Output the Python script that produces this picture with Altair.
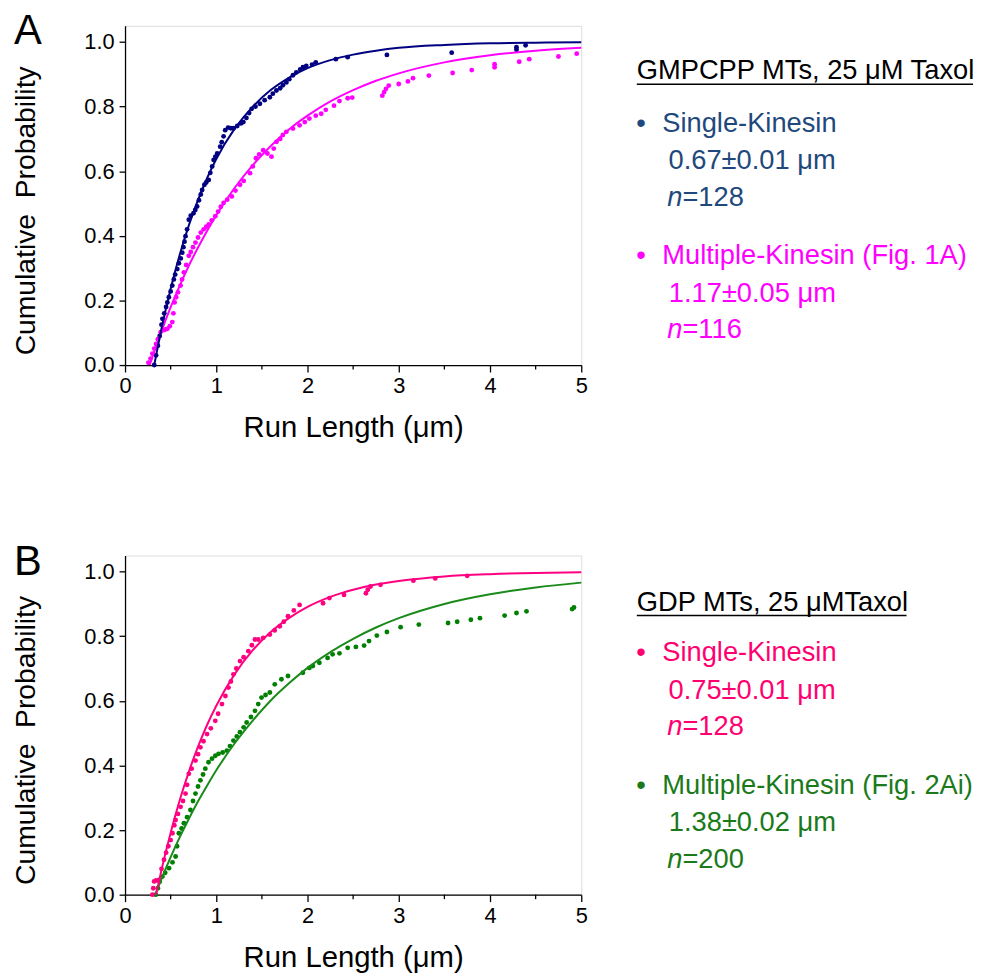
import altair as alt
import pandas as pd

FONT = "Liberation Sans"

# ---------------- Panel A data (GMPCPP MTs) ----------------
a_single_x = [0.32, 0.34, 0.36, 0.38, 0.40, 0.41, 0.43, 0.45, 0.464, 0.48, 0.50, 0.518, 0.535, 0.55, 0.573,
              0.59, 0.61, 0.627, 0.64, 0.652, 0.663, 0.68, 0.699, 0.72, 0.75, 0.77, 0.79, 0.81, 0.83, 0.845,
              0.87, 0.89, 0.917, 0.935, 0.955, 0.971, 0.99, 1.01, 1.043, 1.06, 1.08, 1.098, 1.13, 1.16, 1.19,
              1.23, 1.27, 1.297, 1.33, 1.36, 1.388, 1.43, 1.478, 1.53, 1.587, 1.62, 1.659, 1.70, 1.73, 1.768,
              1.80, 1.84, 1.877, 1.92, 1.95, 1.986, 2.05, 2.09, 2.31, 2.44, 2.87, 3.58, 4.29, 4.29, 4.39]
a_single_y = [0.0, 0.03, 0.06, 0.09, 0.125, 0.143, 0.16, 0.18, 0.194, 0.21, 0.228, 0.246, 0.265, 0.28, 0.297,
              0.315, 0.33, 0.348, 0.365, 0.382, 0.399, 0.42, 0.45, 0.462, 0.47, 0.48, 0.491, 0.51, 0.528, 0.542,
              0.558, 0.565, 0.573, 0.595, 0.615, 0.635, 0.645, 0.655, 0.676, 0.69, 0.708, 0.727, 0.735, 0.733, 0.733,
              0.74, 0.748, 0.752, 0.765, 0.78, 0.793, 0.80, 0.809, 0.82, 0.829, 0.84, 0.85, 0.857, 0.866, 0.875,
              0.885, 0.897, 0.906, 0.915, 0.922, 0.926, 0.93, 0.937, 0.947, 0.953, 0.960, 0.967, 0.976, 0.984, 0.99]

a_multi_x = [0.257, 0.28, 0.30, 0.32, 0.34, 0.36, 0.39, 0.42, 0.44, 0.464, 0.49, 0.518, 0.53, 0.543, 0.56,
             0.58, 0.609, 0.625, 0.645, 0.67, 0.699, 0.72, 0.745, 0.772, 0.80, 0.83, 0.862, 0.89, 0.917, 0.95,
             0.989, 1.02, 1.05, 1.08, 1.12, 1.17, 1.21, 1.26, 1.30, 1.37, 1.40, 1.435, 1.47, 1.514, 1.56,
             1.605, 1.63, 1.66, 1.70, 1.73, 1.768, 1.84, 1.913, 1.97, 2.02, 2.09, 2.15, 2.20, 2.29, 2.35,
             2.44, 2.49, 2.82, 2.84, 2.86, 2.89, 3.0, 3.10, 3.156, 3.33, 3.59, 3.80, 4.05, 4.05, 4.32,
             4.43, 4.75, 4.95]
a_multi_y = [0.007, 0.02, 0.035, 0.051, 0.065, 0.08, 0.102, 0.108, 0.11, 0.112, 0.12, 0.133, 0.16, 0.194, 0.21,
             0.225, 0.246, 0.265, 0.287, 0.31, 0.338, 0.35, 0.365, 0.379, 0.395, 0.41, 0.42, 0.428, 0.435, 0.448,
             0.461, 0.475, 0.49, 0.502, 0.512, 0.522, 0.54, 0.558, 0.57, 0.594, 0.615, 0.64, 0.652, 0.665, 0.655,
             0.645, 0.67, 0.691, 0.70, 0.712, 0.722, 0.732, 0.742, 0.752, 0.763, 0.772, 0.778, 0.79, 0.803, 0.817,
             0.826, 0.828, 0.834, 0.845, 0.855, 0.865, 0.870, 0.878, 0.888, 0.896, 0.904, 0.913, 0.922, 0.931, 0.939,
             0.947, 0.955, 0.964]

a_single_fit_x = [0.32, 0.4, 0.5, 0.6, 0.7, 0.8, 0.9, 1.0, 1.2, 1.4, 1.6, 1.8, 2.0, 2.25, 2.5, 2.75, 3.0, 3.5, 4.0, 4.5, 5.0]
a_single_fit_y = [0.0, 0.113, 0.236, 0.342, 0.433, 0.511, 0.579, 0.638, 0.731, 0.800, 0.852, 0.890, 0.919, 0.944,
                  0.961, 0.973, 0.982, 0.991, 0.996, 0.998, 0.999]
a_multi_fit_x = [0.27, 0.4, 0.5, 0.6, 0.7, 0.8, 0.9, 1.0, 1.2, 1.4, 1.6, 1.8, 2.0, 2.25, 2.5, 2.75, 3.0, 3.5, 4.0, 4.5, 5.0]
a_multi_fit_y = [0.0, 0.105, 0.179, 0.246, 0.308, 0.364, 0.416, 0.464, 0.548, 0.619, 0.679, 0.730, 0.772, 0.816,
                 0.851, 0.880, 0.903, 0.937, 0.959, 0.973, 0.982]

# ---------------- Panel B data (GDP MTs) ----------------
b_single_x = [0.30, 0.31, 0.319, 0.34, 0.373, 0.40, 0.427, 0.45, 0.475, 0.50, 0.52, 0.54, 0.554, 0.58, 0.609,
              0.635, 0.663, 0.68, 0.699, 0.73, 0.772, 0.80, 0.826, 0.86, 0.899, 0.94, 0.989, 1.02, 1.062, 1.10,
              1.134, 1.16, 1.188, 1.22, 1.26, 1.30, 1.351, 1.39, 1.424, 1.46, 1.514, 1.587, 1.64, 1.696, 1.74,
              1.786, 1.85, 1.913, 2.17, 2.24, 2.40, 2.64, 2.66, 2.69, 2.80, 3.16, 3.40, 3.75]
b_single_y = [0.0, 0.02, 0.041, 0.044, 0.046, 0.08, 0.108, 0.13, 0.15, 0.169, 0.19, 0.215, 0.231, 0.25, 0.272,
              0.29, 0.313, 0.34, 0.374, 0.39, 0.415, 0.435, 0.456, 0.475, 0.497, 0.515, 0.538, 0.56, 0.59, 0.615,
              0.641, 0.66, 0.682, 0.70, 0.723, 0.735, 0.754, 0.772, 0.79, 0.79, 0.795, 0.805, 0.818, 0.831, 0.845,
              0.862, 0.88, 0.897, 0.902, 0.918, 0.928, 0.933, 0.944, 0.954, 0.959, 0.972, 0.979, 0.987]

b_multi_x = [0.337, 0.36, 0.38, 0.41, 0.44, 0.482, 0.52, 0.554, 0.57, 0.59, 0.62, 0.645, 0.68, 0.717, 0.745,
             0.772, 0.80, 0.826, 0.855, 0.88, 0.915, 0.953, 0.99, 1.025, 1.07, 1.116, 1.15, 1.188, 1.225, 1.26,
             1.30, 1.333, 1.38, 1.424, 1.46, 1.496, 1.54, 1.587, 1.641, 1.714, 1.786, 1.949, 2.02, 2.058, 2.13,
             2.22, 2.275, 2.35, 2.44, 2.53, 2.62, 2.674, 2.76, 2.87, 3.02, 3.22, 3.54, 3.64, 3.79, 3.89,
             4.16, 4.29, 4.40, 4.90, 4.92]
b_multi_y = [0.0, 0.02, 0.04, 0.056, 0.068, 0.082, 0.10, 0.118, 0.15, 0.19, 0.205, 0.221, 0.24, 0.262, 0.29,
             0.313, 0.335, 0.354, 0.372, 0.39, 0.41, 0.421, 0.43, 0.436, 0.44, 0.446, 0.46, 0.477, 0.49, 0.503,
             0.518, 0.533, 0.55, 0.569, 0.59, 0.61, 0.618, 0.626, 0.651, 0.667, 0.677, 0.687, 0.702, 0.708, 0.718,
             0.733, 0.744, 0.747, 0.764, 0.767, 0.771, 0.785, 0.802, 0.813, 0.828, 0.836, 0.841, 0.845, 0.851, 0.856,
             0.864, 0.872, 0.877, 0.884, 0.889]

b_single_fit_x = [0.34, 0.4, 0.5, 0.6, 0.7, 0.8, 0.9, 1.0, 1.2, 1.4, 1.6, 1.8, 2.0, 2.25, 2.5, 2.75, 3.0, 3.5, 4.0, 4.5, 5.0]
b_single_fit_y = [0.0, 0.077, 0.192, 0.293, 0.381, 0.458, 0.526, 0.585, 0.682, 0.757, 0.814, 0.857, 0.891, 0.922,
                  0.944, 0.960, 0.971, 0.985, 0.992, 0.996, 0.998]
b_multi_fit_x = [0.33, 0.4, 0.5, 0.6, 0.7, 0.8, 0.9, 1.0, 1.2, 1.4, 1.6, 1.8, 2.0, 2.25, 2.5, 2.75, 3.0, 3.5, 4.0, 4.5, 5.0]
b_multi_fit_y = [0.0, 0.049, 0.116, 0.178, 0.235, 0.289, 0.338, 0.385, 0.468, 0.539, 0.602, 0.655, 0.702, 0.751,
                 0.792, 0.827, 0.856, 0.900, 0.930, 0.951, 0.966]

x_major = [0, 1, 2, 3, 4, 5]
x_minor = [0.5, 1.5, 2.5, 3.5, 4.5]
y_major = [0.0, 0.2, 0.4, 0.6, 0.8, 1.0]

a_header = "GMPCPP MTs, 25 μM Taxol"
a_lines = ["Single-Kinesin", "0.67±0.01 μm", "=128", "Multiple-Kinesin (Fig. 1A)", "1.17±0.05 μm", "=116"]
b_header = "GDP MTs, 25 μMTaxol"
b_lines = ["Single-Kinesin", "0.75±0.01 μm", "=128", "Multiple-Kinesin (Fig. 2Ai)", "1.38±0.02 μm", "=200"]

W, H = 460, 342
LEG = 27.5
LBL = 22

x_enc = alt.X("x:Q", scale=alt.Scale(domain=[0, 5], nice=False),
              axis=alt.Axis(values=x_major, format="d", title="Run Length (μm)",
                            titleFontSize=29.5, titleFont=FONT, titleFontWeight="normal", titleColor="black",
                            titleBaseline="alphabetic", titleY=72,
                            labelFontSize=LBL, labelFont=FONT, labelColor="black", labelPadding=4,
                            labelFlush=False, tickSize=7, tickColor="black", tickWidth=1.3,
                            domainColor="black", domainWidth=1.3, grid=False))
y_enc = alt.Y("y:Q", scale=alt.Scale(domain=[0, 1.05], nice=False),
              axis=alt.Axis(values=y_major, format=".1f", title="Cumulative\u00a0 Probability",
                            titleFontSize=28.5, titleFont=FONT, titleFontWeight="normal", titleColor="black",
                            titleBaseline="alphabetic", titleAngle=270, titleX=-91, titleY=186,
                            labelFontSize=LBL, labelFont=FONT, labelColor="black", labelPadding=5,
                            tickSize=6, tickColor="black", tickWidth=1.3,
                            domainColor="black", domainWidth=1.3, grid=False))


def txt(s, x, y, color, size=LEG, style="normal"):
    return alt.Chart(pd.DataFrame({"t": [s]})).mark_text(
        align="left", baseline="alphabetic", font=FONT, fontSize=size, color=color, fontStyle=style
    ).encode(text="t:N", x=alt.value(x), y=alt.value(y))


def panel(letter, letter_y, s_x, s_y, s_fx, s_fy, m_x, m_y, m_fx, m_fy,
          c_s, c_m, c_sl, c_ml, t_s, t_m, header, lines, header_y, ul_end):
    layers = []
    minor = alt.Chart(pd.DataFrame({"x": x_minor})).mark_rule(color="black", strokeWidth=1.3).encode(
        x=x_enc, y=alt.value(H), y2=alt.value(H + 4.5))
    layers.append(minor)
    for xs, ys, c in [(m_x, m_y, c_m), (s_x, s_y, c_s)]:
        layers.append(alt.Chart(pd.DataFrame({"x": xs, "y": ys})).mark_circle(
            size=24, opacity=1, color=c).encode(x=x_enc, y=y_enc))
    for xs, ys, c in [(m_fx, m_fy, c_ml), (s_fx, s_fy, c_sl)]:
        layers.append(alt.Chart(pd.DataFrame({"x": xs, "y": ys})).mark_line(
            strokeWidth=2, color=c, interpolate="monotone").encode(x=x_enc, y=y_enc))
    layers.append(txt(letter, -112, letter_y, "black", size=42))
    layers.append(txt(header, 516, header_y, "black"))
    layers.append(alt.Chart(pd.DataFrame({"t": [header]})).mark_rule(color="black", strokeWidth=1.6).encode(
        x=alt.value(516), x2=alt.value(ul_end), y=alt.value(header_y + 5)))
    # Single group
    layers.append(txt("•", 515.5, 106.8, t_s))
    layers.append(txt(lines[0], 541.7, 106.8, t_s))
    layers.append(txt(lines[1], 548, 144.3, t_s))
    layers.append(txt("n", 546.7, 181.4, t_s, style="italic"))
    layers.append(txt(lines[2], 562, 181.4, t_s))
    # Multiple group
    layers.append(txt("•", 515.5, 240.5, t_m))
    layers.append(txt(lines[3], 541.7, 240.5, t_m))
    layers.append(txt(lines[4], 548.3, 278, t_m))
    layers.append(txt("n", 546.7, 314.7, t_m, style="italic"))
    layers.append(txt(lines[5], 562, 314.7, t_m))
    return alt.layer(*layers).properties(width=W, height=H)


panel_a = panel("A", 18.3, a_single_x, a_single_y, a_single_fit_x, a_single_fit_y,
                a_multi_x, a_multi_y, a_multi_fit_x, a_multi_fit_y,
                "#000080", "#FF00FF", "#000080", "#FF00FF", "#1F497D", "#FF00FF",
                a_header, a_lines, 53.8, 855)
panel_b = panel("B", 19.4, b_single_x, b_single_y, b_single_fit_x, b_single_fit_y,
                b_multi_x, b_multi_y, b_multi_fit_x, b_multi_fit_y,
                "#FF0080", "#008000", "#FF0080", "#1A8A1A", "#FF0070", "#1A7A1A",
                b_header, b_lines, 55.5, 788)

chart = alt.vconcat(panel_a, panel_b, spacing=98).properties(
    padding={"left": 3, "top": -3, "right": 0, "bottom": 0}
).configure_axis(
    labelFontSize=LBL, labelFont=FONT, labelColor="black", titleFont=FONT, titleColor="black"
).configure_view(stroke="black", strokeWidth=1.3).configure(background="white")

chart.save("out.html", embed_options={"renderer": "svg", "actions": False})
